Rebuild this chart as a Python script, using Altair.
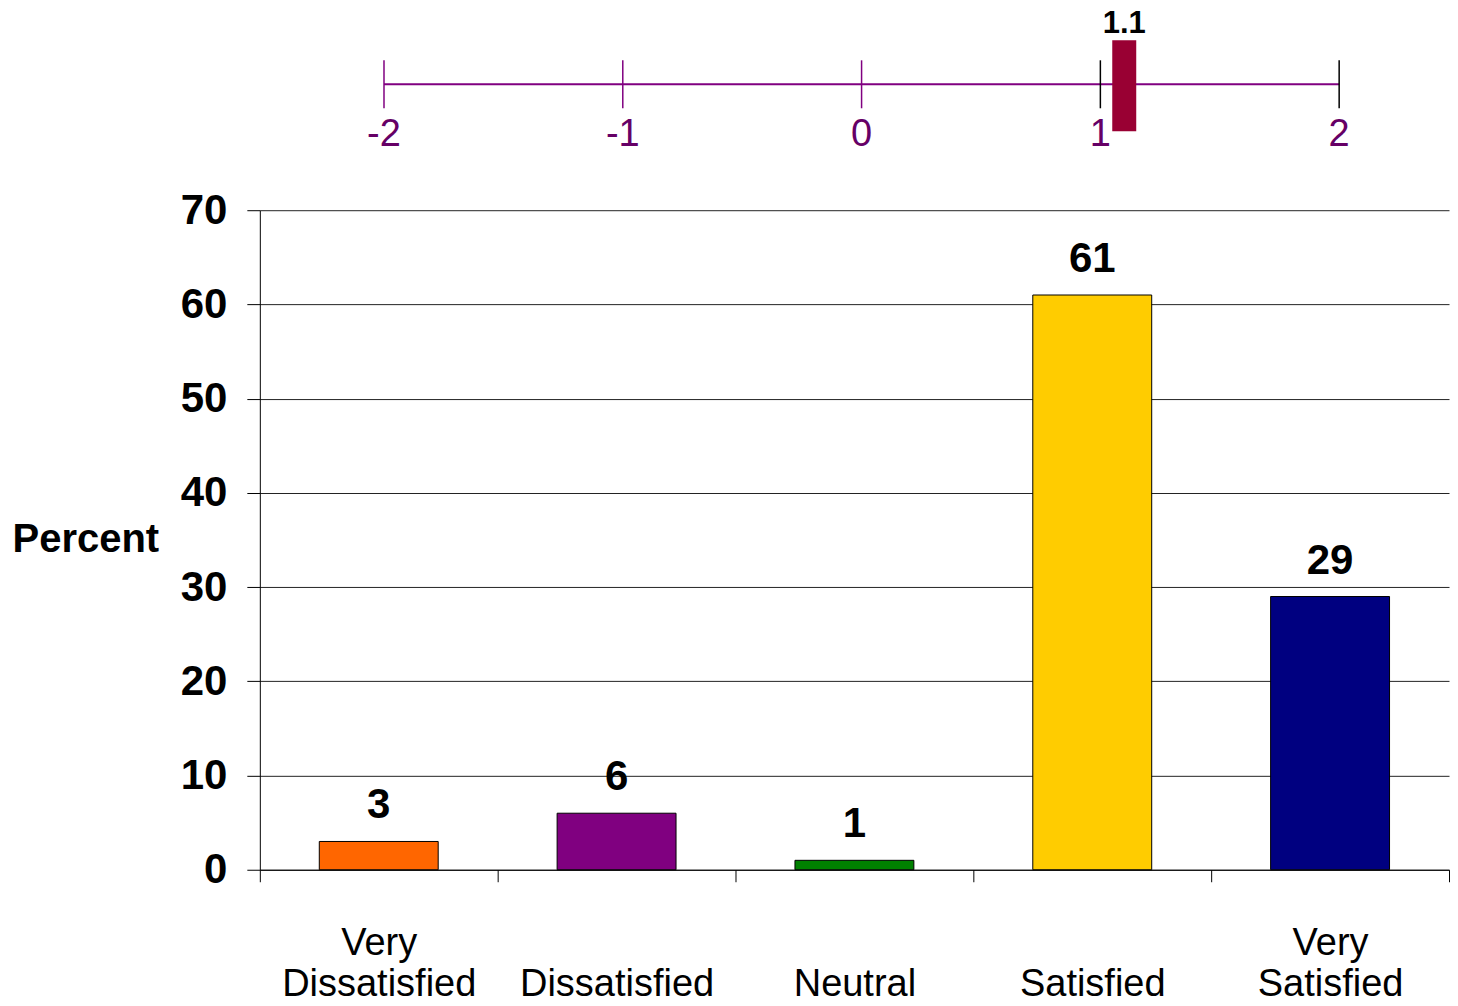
import altair as alt
import pandas as pd

# ---- data ----
categories = ["Very Dissatisfied", "Dissatisfied", "Neutral", "Satisfied", "Very Satisfied"]
percents = [3, 6, 1, 61, 29]
bar_colors = ["#FF6600", "#800080", "#008000", "#FFCC00", "#000080"]
scale_ticks = [-2, -1, 0, 1, 2]
tick_colors = ["#800080", "#800080", "#800080", "#000000", "#000000"]
mean_score = [1.1]

W = 1190
FONT = "Liberation Sans"

bars_df = pd.DataFrame({"category": categories, "percent": percents, "color": bar_colors})
ticks_df = pd.DataFrame({"v": scale_ticks, "c": tick_colors,
                         "label": [str(t) for t in scale_ticks]})
line_df = pd.DataFrame({"x": [min(scale_ticks)], "x2": [max(scale_ticks)]})
mean_df = pd.DataFrame({"m": mean_score, "label": [f"{m:.1f}" for m in mean_score]})

# ---- top scale (mean score) ----
xs = alt.Scale(domain=[-2.52, 2.46])
top_line = alt.Chart(line_df).mark_rule(color="#800080", strokeWidth=2).encode(
    x=alt.X("x:Q", scale=xs, axis=None), x2="x2:Q", y=alt.value(74))
top_ticks = alt.Chart(ticks_df).mark_rule(strokeWidth=1.5).encode(
    x=alt.X("v:Q", scale=xs, axis=None),
    y=alt.value(50), y2=alt.value(98),
    color=alt.Color("c:N", scale=None))
top_labels = alt.Chart(ticks_df).mark_text(
    font=FONT, fontSize=38, color="#660066", baseline="middle").encode(
    x=alt.X("v:Q", scale=xs, axis=None), y=alt.value(125), text="label:N")
marker = alt.Chart(mean_df).mark_tick(
    color="#990033", thickness=24, size=91, orient="vertical", opacity=1).encode(
    x=alt.X("m:Q", scale=xs, axis=None), y=alt.value(75.5))
marker_label = alt.Chart(mean_df).mark_text(
    font=FONT, fontSize=31, fontWeight="bold", color="black", baseline="middle").encode(
    x=alt.X("m:Q", scale=xs, axis=None), y=alt.value(14), text="label:N")

top = alt.layer(top_line, top_ticks, marker, top_labels, marker_label).properties(
    width=W, height=150)

# ---- main bar chart ----
x_enc = alt.X(
    "category:N", sort=categories,
    scale=alt.Scale(paddingInner=0, paddingOuter=0),
    axis=alt.Axis(
        title=None, labelAngle=0, tickBand="extent", tickSize=12,
        tickColor="black", domainColor="black", labelFont=FONT, labelFontSize=38,
        labelColor="black", labelBaseline="top", labelLineHeight=41,
        labelPadding=43, labelLimit=0,
        labelExpr="indexof(datum.label, 'Very ') == 0 ? ['Very', substring(datum.label, 5)] : ['', datum.label]"))
y_enc = alt.Y(
    "percent:Q", scale=alt.Scale(domain=[0, 70]),
    axis=alt.Axis(
        values=list(range(0, 71, 10)), title="Percent",
        titleAngle=0, titleAlign="left", titleBaseline="middle",
        titleX=-248, titleY=330, titleFont=FONT, titleFontSize=40,
        titleFontWeight="bold", titleColor="black",
        labelFont=FONT, labelFontSize=42, labelFontWeight="bold", labelColor="black",
        labelPadding=20, tickSize=13, tickColor="black", domainColor="black",
        grid=True, gridColor="#222222", gridWidth=1))

bars = alt.Chart(bars_df).mark_bar(
    stroke="black", strokeWidth=1, width=alt.RelativeBandSize(0.5)).encode(
    x=x_enc, y=y_enc, color=alt.Color("color:N", scale=None))
texts = alt.Chart(bars_df).mark_text(
    font=FONT, fontSize=42, fontWeight="bold", color="black",
    baseline="bottom", dy=-14).encode(
    x=alt.X("category:N", sort=categories), y="percent:Q", text="percent:Q")

main = alt.layer(bars, texts).properties(width=W, height=660)

chart = alt.vconcat(top, main, spacing=29).properties(
    padding={"left": 4, "top": 0, "right": 0, "bottom": 0}
).configure(background="white").configure_view(stroke=None)

chart.save("out.html", embed_options={"renderer": "svg", "actions": False})
